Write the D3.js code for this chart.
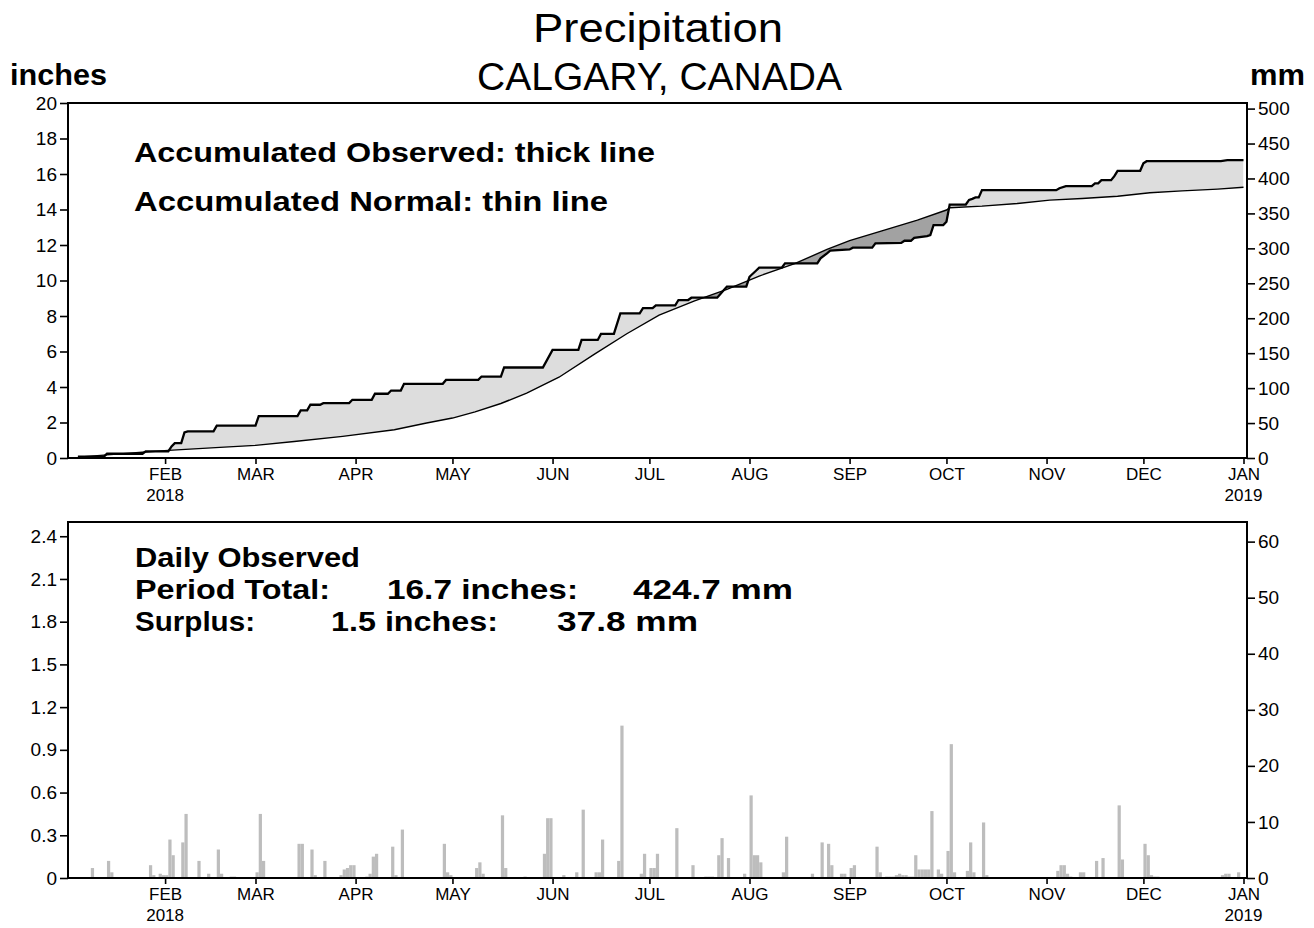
<!DOCTYPE html>
<html><head><meta charset="utf-8">
<script src="https://cdn.jsdelivr.net/npm/d3@7/dist/d3.min.js"></script>
<style>
body{margin:0;background:#fff;}
svg text{font-family:"Liberation Sans",Arial,sans-serif;fill:#000;}
.tick text{font-family:"Liberation Sans Narrow","Liberation Sans",Arial,sans-serif;font-size:19px;}
.xax .tick text{font-size:17px;}
</style></head><body>
<svg id="chart" width="1314" height="928"></svg>
<script>
// ---------------- DATA ----------------
// month tick labels (first of each month, Feb 2018 .. Jan 2019)
const monthLabels = ["FEB","MAR","APR","MAY","JUN","JUL","AUG","SEP","OCT","NOV","DEC","JAN"];
const monthDates  = ["2018-02-01","2018-03-01","2018-04-01","2018-05-01","2018-06-01","2018-07-01",
                     "2018-08-01","2018-09-01","2018-10-01","2018-11-01","2018-12-01","2019-01-01"];
const yearLabels  = ["2018","2019"];
const yearUnder   = ["2018-02-01","2019-01-01"];

const topInchTicks = [0,2,4,6,8,10,12,14,16,18,20];
const topMmTicks   = [0,50,100,150,200,250,300,350,400,450,500];
const botInchTicks = [0,0.3,0.6,0.9,1.2,1.5,1.8,2.1,2.4];
const botInchLabels= ["0","0.3","0.6","0.9","1.2","1.5","1.8","2.1","2.4"];
const botMmTicks   = [0,10,20,30,40,50,60];

// daily observed precipitation: day offset from 2018-01-01, inches
const rainDay = [8,13,14,26,27,29,30,
  31,32,33,36,37,41,44,47,48,51,52,
  59,60,61,72,73,76,77,80,85,86,87,88,89,
  93,94,95,96,101,102,104,117,118,119,
  127,128,129,135,136,142,148,149,150,
  154,158,160,164,165,166,171,172,178,179,
  181,182,183,189,194,198,199,200,202,203,205,210,
  212,213,214,215,222,223,231,234,236,237,240,241,
  243,244,251,252,254,255,256,257,258,259,260,261,262,263,264,265,266,267,268,270,271,
  273,274,275,279,280,281,284,285,
  307,308,309,310,311,314,315,319,321,326,327,
  334,335,336,337,338,358,359,360,363];
const rainInches = [0.07,0.12,0.04,0.09,0.02,0.03,0.02,
  0.02,0.27,0.16,0.25,0.45,0.12,0.03,0.20,0.03,0.01,0.01,
  0.04,0.45,0.12,0.24,0.24,0.20,0.02,0.12,0.02,0.06,0.07,0.09,0.09,
  0.01,0.03,0.15,0.17,0.22,0.02,0.34,0.24,0.04,0.02,
  0.07,0.11,0.03,0.44,0.07,0.01,0.17,0.42,0.42,
  0.02,0.04,0.48,0.04,0.04,0.27,0.12,1.07,0.03,0.17,
  0.07,0.07,0.17,0.35,0.09,0.01,0.01,0.01,0.16,0.28,0.14,0.03,
  0.58,0.16,0.16,0.11,0.04,0.29,0.03,0.25,0.24,0.09,0.03,0.03,
  0.07,0.09,0.22,0.04,0.01,0.01,0.01,0.02,0.03,0.02,0.02,0.01,0.01,0.16,0.06,0.06,0.06,0.06,0.47,0.06,0.03,
  0.19,0.94,0.04,0.05,0.25,0.04,0.39,0.02,
  0.05,0.09,0.09,0.03,0.01,0.04,0.04,0.12,0.14,0.51,0.13,
  0.24,0.16,0.02,0.01,0.01,0.02,0.03,0.03,0.04];

// accumulated observed (thick line), read at its corners: day offset, inches
const accObsDay = [4,12,13,24,25,32,33,34,36,37,38,46,47,59,60,72,73,75,76,79,80,88,89,95,96,100,101,104,105,117,118,
  128,129,135,136,148,151,159,160,165,166,170,172,178,179,182,183,189,190,193,194,202,204,205,211,212,214,215,222,223,
  233,234,236,237,243,244,250,251,259,260,262,263,267,268,269,272,273,274,279,280,281,282,283,284,
  307,308,310,318,319,320,321,324,325,326,333,334,335,358,360,365];
const accObsInches = [0.07,0.07,0.24,0.24,0.37,0.37,0.65,0.84,0.84,1.44,1.50,1.50,1.82,1.82,2.36,2.36,2.68,2.68,3.00,3.00,3.09,3.09,3.28,3.28,3.62,3.62,3.80,3.80,4.18,4.18,4.40,
  4.40,4.59,4.59,5.10,5.10,6.09,6.09,6.65,6.65,6.99,6.99,8.15,8.15,8.44,8.44,8.60,8.60,8.90,8.90,9.03,9.03,9.45,9.65,9.65,10.21,10.55,10.72,10.72,10.97,
  10.97,11.25,11.53,11.68,11.75,11.85,11.85,12.09,12.12,12.24,12.24,12.40,12.50,12.56,13.12,13.12,13.31,14.28,14.28,14.54,14.60,14.68,14.68,15.09,
  15.09,15.20,15.32,15.32,15.47,15.47,15.65,15.65,15.88,16.18,16.18,16.60,16.72,16.72,16.78,16.78];

// accumulated normal (thin line): day offset, inches
const accNormDay = [4,14,24,32,48,59,71,86,102,112,120,127,135,143,153,164,174,184,195,205,215,226,236,243,253,264,273,274,284,295,305,315,326,336,346,357,365];
const accNormInches = [0.05,0.19,0.32,0.43,0.60,0.71,0.93,1.22,1.59,1.97,2.25,2.60,3.07,3.65,4.55,5.85,7.00,8.05,8.85,9.50,10.25,10.95,11.75,12.25,12.80,13.40,13.97,14.10,14.19,14.34,14.53,14.62,14.75,14.94,15.05,15.15,15.25];

// ---------------- CHART ----------------
const svg = d3.select("#chart");
const T0 = Date.UTC(2018,0,1);
const dayDate = d => new Date(T0 + d*86400000);
const parse = s => new Date(s + "T00:00:00Z");

const x = d3.scaleUtc().domain([parse("2018-01-01"), parse("2019-01-01")]).range([65, 1243.5]);
const L = 68, R = 1247;
const pTop = {t:103, b:458}, pBot = {t:522, b:878};
const yTop = d3.scaleLinear().domain([0,20]).range([pTop.b, pTop.t]);
const yTopMm = d3.scaleLinear().domain([0,508]).range([pTop.b, pTop.t]);
const yBot = d3.scaleLinear().domain([0,2.5]).range([pBot.b, pBot.t]);
const yBotMm = d3.scaleLinear().domain([0,63.5]).range([pBot.b, pBot.t]);

const defs = svg.append("defs");
const lightFill = "#dddddd", darkFill = "#a2a2a2", barFill = "#bdbdbd";

// ---- top panel ----
const interp = (days, vals, d) => {
  if (d <= days[0]) return vals[0];
  if (d >= days[days.length-1]) return vals[vals.length-1];
  const i = d3.bisectRight(days, d);
  const d0 = days[i-1], d1 = days[i];
  return vals[i-1] + (vals[i]-vals[i-1])*(d-d0)/(d1-d0);
};
const allDays = Array.from(new Set(accObsDay.concat(accNormDay))).sort((a,b)=>a-b);
const pts = allDays.map(d => ({d, o: interp(accObsDay, accObsInches, d), n: interp(accNormDay, accNormInches, d)}));

defs.append("clipPath").attr("id","clipAbove").append("path")
  .attr("d", d3.area().x(p=>x(dayDate(p.d))).y0(pTop.t).y1(p=>yTop(p.n))(pts));
defs.append("clipPath").attr("id","clipBelow").append("path")
  .attr("d", d3.area().x(p=>x(dayDate(p.d))).y0(p=>yTop(p.n)).y1(pTop.b)(pts));

const between = d3.area().x(p=>x(dayDate(p.d))).y0(p=>yTop(p.o)).y1(p=>yTop(p.n));
svg.append("path").attr("d", between(pts)).attr("fill",lightFill).attr("clip-path","url(#clipAbove)");
svg.append("path").attr("d", between(pts)).attr("fill",darkFill).attr("clip-path","url(#clipBelow)");

const normLine = d3.line().x((d,i)=>x(dayDate(accNormDay[i]))).y((d,i)=>yTop(accNormInches[i]));
svg.append("path").attr("d", normLine(accNormDay)).attr("fill","none").attr("stroke","#000").attr("stroke-width",1.4);
const obsLine = d3.line().x((d,i)=>x(dayDate(accObsDay[i]))).y((d,i)=>yTop(accObsInches[i]));
svg.append("path").attr("d", obsLine(accObsDay)).attr("fill","none").attr("stroke","#000").attr("stroke-width",2.3).attr("stroke-linejoin","miter");

// ---- bottom panel bars ----
svg.append("g").selectAll("rect").data(rainDay).join("rect")
  .attr("x", d => x(dayDate(d)))
  .attr("width", d => x(dayDate(d+1)) - x(dayDate(d)))
  .attr("y", (d,i) => yBot(rainInches[i]))
  .attr("height", (d,i) => yBot(0) - yBot(rainInches[i]))
  .attr("fill",barFill);

// ---- frames & axes ----
function styleAxis(g){
  g.select(".domain").remove();
  g.selectAll(".tick line").attr("stroke","#000").attr("stroke-width",1.6);
}
[pTop, pBot].forEach(p => {
  svg.append("rect").attr("x",L).attr("y",p.t).attr("width",R-L).attr("height",p.b-p.t)
    .attr("fill","none").attr("stroke","#000").attr("stroke-width",2);
});
svg.append("g").attr("transform",`translate(${L},0)`)
  .call(d3.axisLeft(yTop).tickValues(topInchTicks).tickSize(8).tickPadding(3).tickFormat(d3.format("d"))).call(styleAxis);
svg.append("g").attr("transform",`translate(${R},0)`)
  .call(d3.axisRight(yTopMm).tickValues(topMmTicks).tickSize(8).tickPadding(3).tickFormat(d3.format("d"))).call(styleAxis);
svg.append("g").attr("transform",`translate(${L},0)`)
  .call(d3.axisLeft(yBot).tickValues(botInchTicks).tickSize(8).tickPadding(3).tickFormat((d,i)=>botInchLabels[i])).call(styleAxis);
svg.append("g").attr("transform",`translate(${R},0)`)
  .call(d3.axisRight(yBotMm).tickValues(botMmTicks).tickSize(8).tickPadding(3).tickFormat(d3.format("d"))).call(styleAxis);

const mDates = monthDates.map(parse);
[pTop.b, pBot.b].forEach(yb => {
  svg.append("g").attr("class","xax").attr("transform",`translate(0,${yb})`)
    .call(d3.axisBottom(x).tickValues(mDates).tickSize(6).tickPadding(4).tickFormat((d,i)=>monthLabels[i])).call(styleAxis);
  svg.append("g").selectAll("text").data(yearUnder).join("text")
    .attr("x", d => x(parse(d))).attr("y", yb + 43)
    .attr("text-anchor","middle")
    .style("font-family",'"Liberation Sans Narrow","Liberation Sans",Arial,sans-serif').style("font-size","17px")
    .text((d,i)=>yearLabels[i]);
});

// ---- texts ----
function txt(s, xx, yy, size, len, weight, anchor){
  const t = svg.append("text").attr("x",xx).attr("y",yy).style("font-size",size+"px")
    .style("font-weight",weight||"normal").attr("text-anchor",anchor||"start").text(s);
  if (len) t.attr("textLength",len).attr("lengthAdjust","spacingAndGlyphs");
  return t;
}
txt("Precipitation", 533, 42, 40, 250, "normal");
txt("CALGARY, CANADA", 477, 90, 38, 365, "normal");
txt("inches", 10, 85, 29, 97, "bold");
txt("mm", 1250, 85, 29, 55, "bold");
txt("Accumulated Observed: thick line", 134, 162, 27, 521, "bold");
txt("Accumulated Normal: thin line", 134, 211, 27, 474, "bold");
txt("Daily Observed", 135, 567, 27, 225, "bold");
txt("Period Total:", 135, 599, 27, 195, "bold");
txt("16.7 inches:", 387, 599, 27, 191, "bold");
txt("424.7 mm", 633, 599, 27, 160, "bold");
txt("Surplus:", 135, 631, 27, 120, "bold");
txt("1.5 inches:", 331, 631, 27, 167, "bold");
txt("37.8 mm", 557, 631, 27, 141, "bold");
</script>
</body></html>
